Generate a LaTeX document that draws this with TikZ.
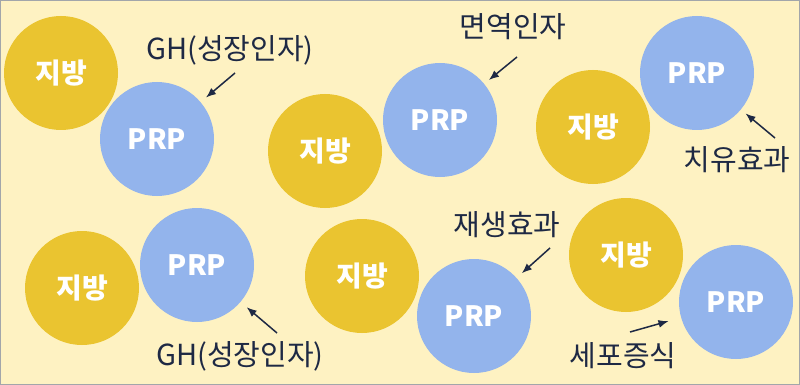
\documentclass[tikz,border=0pt]{standalone}
\usepackage{fontspec}
\setmainfont{Noto Sans CJK KR}
\usepackage{tikz}
\usetikzlibrary{arrows.meta,positioning}

\definecolor{bgcream}{HTML}{FEF2C2}
\definecolor{fatgold}{HTML}{EAC430}
\definecolor{prpblue}{HTML}{93B4EC}
\definecolor{inkblue}{HTML}{1E2944}
\definecolor{rimgray}{HTML}{A2A6AA}

\begin{document}
\begin{tikzpicture}[x=1pt,y=-1pt,
  ball/.style={circle,minimum size=114pt,inner sep=0pt,fill=#1,text=white,font=\fontsize{28}{30}\selectfont\bfseries},
  lbl/.style={text=inkblue,inner sep=1pt,font=\fontsize{29}{31}\selectfont},
  arr/.style={-{Latex[length=10pt,width=8pt]},line width=1.5pt,draw=inkblue}]
\fill[bgcream] (0,0) rectangle (800,385);
\draw[rimgray,line width=1pt] (0.5,0.5) rectangle (799.5,384.5);
% top row
\node[ball=fatgold] (fat1) at (61,73) {지방};
\node[ball=prpblue] (prp1) at (157,139) {PRP};
\node[ball=fatgold] (fat2) at (325,151) {지방};
\node[ball=prpblue] (prp2) at (440,120) {PRP};
\node[ball=fatgold] (fat3) at (593,127) {지방};
\node[ball=prpblue] (prp3) at (697,73) {PRP};
% bottom row
\node[ball=fatgold] (fat4) at (82,288) {지방};
\node[ball=prpblue] (prp4) at (197,265) {PRP};
\node[ball=fatgold] (fat5) at (362,276) {지방};
\node[ball=prpblue] (prp5) at (474,316) {PRP};
\node[ball=fatgold] (fat6) at (626,255) {지방};
\node[ball=prpblue] (prp6) at (736,302) {PRP};
% labels
\node[lbl] (gh1) at (230,50) {GH(성장인자)};
\node[lbl] (imm) at (513,27) {면역인자};
\node[lbl] (heal) at (737,160) {치유효과};
\node[lbl] (gh2) at (240,356) {GH(성장인자)};
\node[lbl] (regen) at (507,225) {재생효과};
\node[lbl] (prolif) at (623,356) {세포증식};
% arrow tails
\coordinate (t1) at (235,73);
\coordinate (t2) at (517,57);
\coordinate (t3) at (775,138);
\coordinate (t4) at (277,333);
\coordinate (t5) at (550,248);
\coordinate (t6) at (630,332);
\draw[arr,shorten >=7pt] (t1) -- (prp1);
\draw[arr,shorten >=6pt] (t2) -- (prp2);
\draw[arr,shorten >=6pt] (t3) -- (prp3);
\draw[arr,shorten >=8pt] (t4) -- (prp4);
\draw[arr,shorten >=7pt] (t5) -- (prp5);
\draw[arr,shorten >=13pt] (t6) -- (prp6);
\end{tikzpicture}
\end{document}
